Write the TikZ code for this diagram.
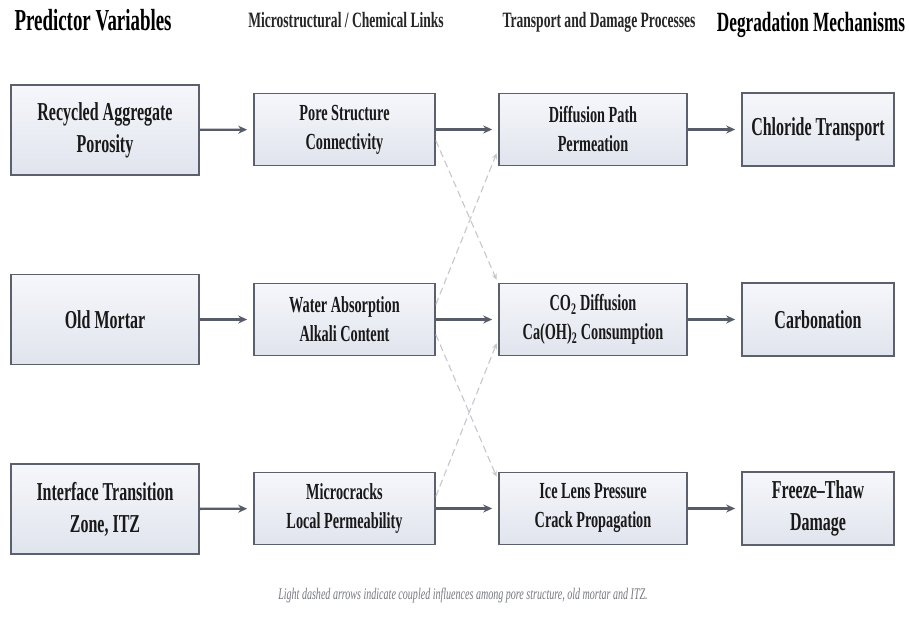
\documentclass[tikz,border=0pt]{standalone}
\usepackage{fontspec}
\setmainfont{Liberation Serif}[FakeStretch=0.62]
\usetikzlibrary{arrows.meta}

\definecolor{boxline}{RGB}{92,96,108}
\definecolor{boxtop}{RGB}{246,247,251}
\definecolor{boxbot}{RGB}{224,228,237}
\definecolor{arrowgray}{RGB}{88,92,104}
\definecolor{dashgray}{RGB}{198,199,205}
\definecolor{notegray}{RGB}{118,120,128}

\begin{document}
\begin{tikzpicture}[x=1pt,y=1pt,
        box/.style={draw=boxline,line width=1.6pt,top color=boxtop,bottom color=boxbot,
            align=center,text=black!90,inner sep=0pt},
        bigbox/.style={box,minimum height=90pt,font=\bfseries\fontsize{25.8}{32}\selectfont},
        midbox/.style={box,minimum height=72pt,font=\bfseries\fontsize{23}{29}\selectfont},
        flow/.style={->,draw=arrowgray,line width=2.4pt,shorten >=6pt},
        cross/.style={-{Stealth[length=6pt,width=5pt]},draw=dashgray,line width=1.1pt,
            dash pattern=on 7pt off 4pt,shorten >=4pt},
        >={Stealth[length=9pt,width=8pt]}]
        \useasboundingbox (0,0) rectangle (909,616);

        % Column headings
        \node[anchor=base west,font=\bfseries\fontsize{30.5}{32}\selectfont] (hpred) at (11,585) {Predictor Variables};
        \node[anchor=base,font=\bfseries\fontsize{21.9}{24}\selectfont,text=black!85] (hlink) at (346,588) {Microstructural / Chemical Links};
        \node[anchor=base,font=\bfseries\fontsize{21.9}{24}\selectfont,text=black!85] (hproc) at (599,588) {Transport and Damage Processes};
        \node[anchor=base,font=\bfseries\fontsize{27.8}{30}\selectfont] (hmech) at (811,584) {Degradation Mechanisms};

        % Predictor variables
        \node[bigbox,minimum width=188pt] (rap) at (105,486) {Recycled Aggregate\\Porosity};
        \node[bigbox,minimum width=188pt] (om) at (105,296.5) {Old Mortar};
        \node[bigbox,minimum width=188pt] (itz) at (105,107) {Interface Transition\\Zone, ITZ};

        % Microstructural / chemical links
        \node[midbox,minimum width=181pt] (psc) at (344.5,486.5) {Pore Structure\\Connectivity};
        \node[midbox,minimum width=181pt] (wa) at (344.5,296.5) {Water Absorption\\Alkali Content};
        \node[midbox,minimum width=181pt] (mc) at (344.5,107.5) {Microcracks\\Local Permeability};

        % Transport and damage processes
        \node[midbox,minimum width=188pt] (dp) at (593,486.5) {Diffusion Path\\Permeation};
        \node[midbox,minimum width=188pt] (co) at (593,296.5) {CO\textsubscript{2} Diffusion\\Ca(OH)\textsubscript{2} Consumption};
        \node[midbox,minimum width=188pt] (ic) at (593,107.5) {Ice Lens Pressure\\Crack Propagation};

        % Degradation mechanisms
        \node[bigbox,minimum width=152pt,minimum height=73pt] (cl) at (818,486.5) {Chloride Transport};
        \node[bigbox,minimum width=152pt,minimum height=73pt] (ca) at (818,296.5) {Carbonation};
        \node[bigbox,minimum width=152pt,minimum height=73pt] (ft) at (818,107.5) {Freeze--Thaw\\Damage};

        % Main flow
        \draw[flow] (rap) -- (psc);
        \draw[flow] (psc) -- (dp);
        \draw[flow] (dp) -- (cl);
        \draw[flow] (om) -- (wa);
        \draw[flow] (wa) -- (co);
        \draw[flow] (co) -- (ca);
        \draw[flow] (itz) -- (mc);
        \draw[flow] (mc) -- (ic);
        \draw[flow] (ic) -- (ft);

        % Coupled influences
        \draw[cross] ([yshift=-11pt]psc.east) -- ([yshift=36pt]co.west);
        \draw[cross] ([yshift=15pt]wa.east) -- ([yshift=-20pt]dp.west);
        \draw[cross] ([yshift=-15pt]wa.east) -- ([yshift=28pt]ic.west);
        \draw[cross] ([yshift=12pt]mc.east) -- ([yshift=-20pt]co.west);

        % Note
        \node[anchor=base,font=\itshape\fontsize{16.2}{18}\selectfont,text=notegray] (note) at (463,17)
            {Light dashed arrows indicate coupled influences among pore structure, old mortar and ITZ.};
    \end{tikzpicture}
\end{document}
